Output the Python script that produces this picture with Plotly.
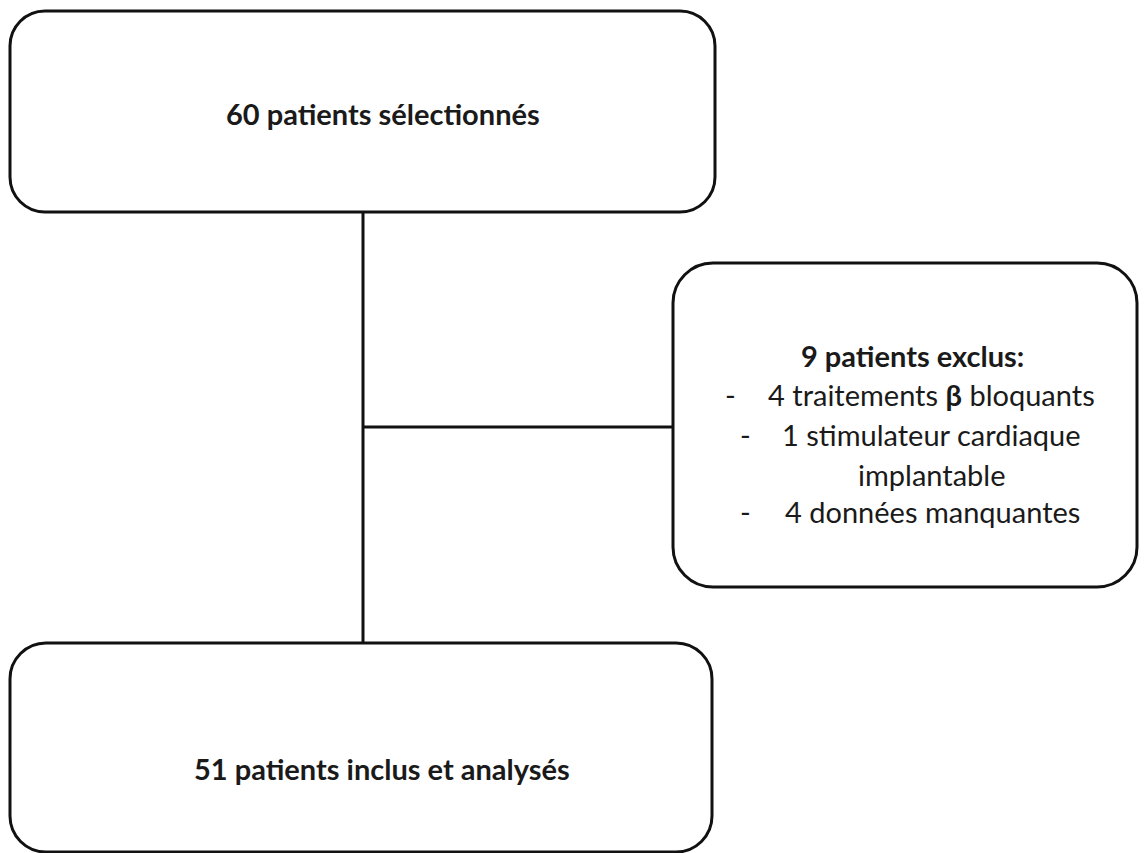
import plotly.graph_objects as go

# ---- content ----
box_titles = ["60 patients sélectionnés", "51 patients inclus et analysés"]
excl_title = "9 patients exclus:"
excl_dashes = ["-", "-", "", "-"]
excl_items = ["4 traitements <b>β</b> bloquants", "1 stimulateur cardiaque", "implantable", "4 données manquantes"]

W, H = 1147, 853
OFF = 8  # page body margin compensation
LINE = "#111111"
TXT = "#1a1a1a"
FONT = "Lato"
FS = 29

# box geometry (x0, y0, x1, y1, radius) in pixel space (y down)
boxes = [
    (10, 11, 715, 212, 35),
    (10, 643, 712, 852, 36),
    (673, 263, 1137, 587, 40),
]


def rrect(x0, y0, x1, y1, r):
    k = 0.5523 * r
    return (f"M {x0+r},{y0} L {x1-r},{y0} "
            f"C {x1-r+k},{y0} {x1},{y0+r-k} {x1},{y0+r} "
            f"L {x1},{y1-r} "
            f"C {x1},{y1-r+k} {x1-r+k},{y1} {x1-r},{y1} "
            f"L {x0+r},{y1} "
            f"C {x0+r-k},{y1} {x0},{y1-r+k} {x0},{y1-r} "
            f"L {x0},{y0+r} "
            f"C {x0},{y0+r-k} {x0+r-k},{y0} {x0+r},{y0} Z")


fig = go.Figure()
shapes = []
for b in boxes:
    shapes.append(dict(type="path", path=rrect(*b), xref="x", yref="y",
                       line=dict(color=LINE, width=3), fillcolor="white", layer="below"))
# connectors
shapes.append(dict(type="line", x0=363, x1=363, y0=212, y1=643, xref="x", yref="y",
                   line=dict(color=LINE, width=3)))
shapes.append(dict(type="line", x0=363, x1=673, y0=427, y1=427, xref="x", yref="y",
                   line=dict(color=LINE, width=3)))

ann = []
ann.append(dict(x=383, y=113, text=f"<b>{box_titles[0]}</b>", showarrow=False,
                font=dict(family=FONT, size=FS, color=TXT), xanchor="center", yanchor="middle"))
ann.append(dict(x=382, y=768, text=f"<b>{box_titles[1]}</b>", showarrow=False,
                font=dict(family=FONT, size=FS, color=TXT), xanchor="center", yanchor="middle"))
ann.append(dict(x=912, y=355, text=f"<b>{excl_title}</b>", showarrow=False,
                font=dict(family=FONT, size=FS, color=TXT), xanchor="center", yanchor="middle"))
line_y = [394, 434, 474, 511]
dash_x = [730, 745, None, 745]
item_cx = [931, 931, 932, 932]
for i, (d, t) in enumerate(zip(excl_dashes, excl_items)):
    if d:
        ann.append(dict(x=dash_x[i], y=line_y[i], text=d, showarrow=False,
                        font=dict(family=FONT, size=FS, color=TXT), xanchor="center", yanchor="middle"))
    ann.append(dict(x=item_cx[i], y=line_y[i], text=t, showarrow=False,
                    font=dict(family=FONT, size=FS, color=TXT), xanchor="center", yanchor="middle"))

fig.update_layout(
    width=W, height=H, margin=dict(l=0, r=0, t=0, b=0),
    paper_bgcolor="white", plot_bgcolor="white",
    xaxis=dict(range=[OFF, W + OFF], visible=False, fixedrange=True),
    yaxis=dict(range=[H + OFF, OFF], visible=False, fixedrange=True),
    shapes=shapes, annotations=ann, showlegend=False,
)
fig.write_html("out.html")
